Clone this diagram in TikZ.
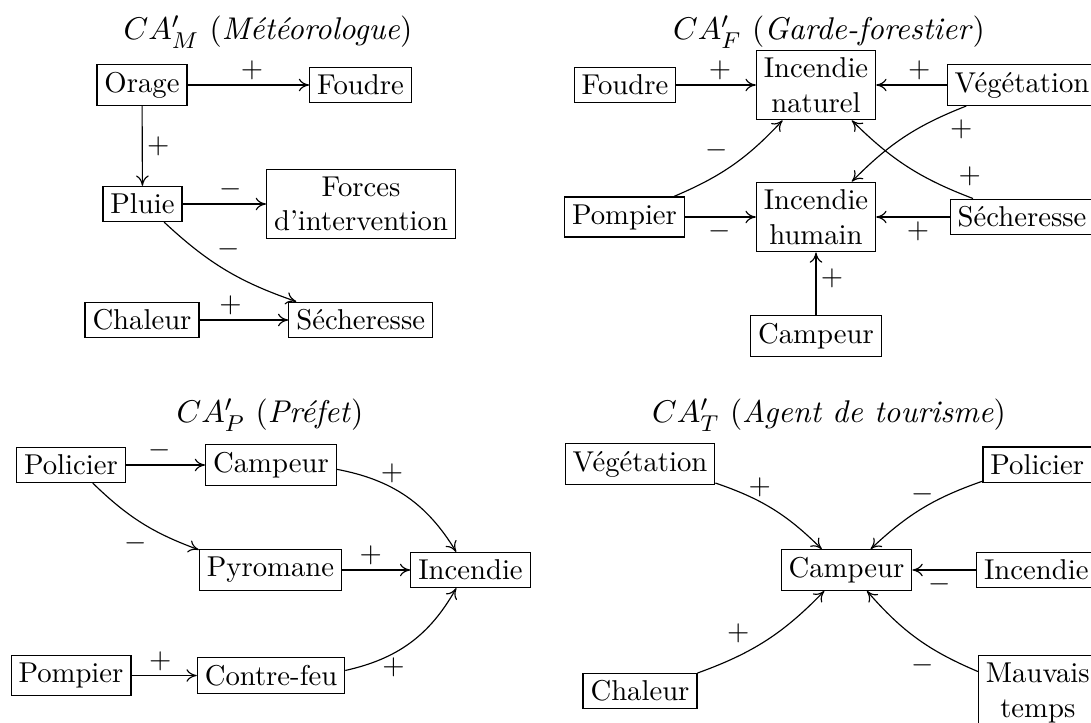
\documentclass[tikz,border=0pt]{standalone}
\usetikzlibrary{arrows.meta}
\begin{document}
\begin{tikzpicture}[x=0.34843pt,y=-0.34843pt,
  box/.style={draw, rectangle, inner sep=2.6pt, align=center, line width=0.4pt},
  lbl/.style={inner sep=1.5pt},
  conn/.style={-{To[length=3.6pt,width=4.4pt]}, line width=0.4pt},
  ttl/.style={inner sep=0pt, font=\fontsize{10.95pt}{13pt}\selectfont}]
\useasboundingbox (0,0) rectangle (1091,722);

% ---------- top left: CA'_M ----------
\node[ttl] (tM) at (268,32) {$CA'_M$ (\textit{Météorologue})};
\node[box] (Orage) at (142,85) {Orage};
\node[box] (FoudreM) at (360.5,85) {Foudre};
\node[box] (Pluie) at (142.5,204) {Pluie};
\node[box] (Forces) at (361,204) {Forces\\d’intervention};
\node[box] (ChaleurM) at (142,320) {Chaleur};
\node[box] (SechM) at (360.7,320) {Sécheresse};

\draw[conn] (Orage) -- node[lbl,above,pos=.53]{$+$} (FoudreM);
\draw[conn] (Orage) -- node[lbl,right,pos=.5]{$+$} (Pluie);
\draw[conn] (Pluie) -- node[lbl,above,pos=.58]{$-$} (Forces);
\draw[conn] (Pluie) to[bend right=12] node[lbl,pos=.53,above=3pt]{$-$} (SechM);
\draw[conn] (ChaleurM) -- node[lbl,above,pos=.35]{$+$} (SechM);

% ---------- top right: CA'_F ----------
\node[ttl] (tF) at (829,32) {$CA'_F$ (\textit{Garde-forestier})};
\node[box] (FoudreF) at (625,85) {Foudre};
\node[box] (IN) at (816,85) {Incendie\\naturel};
\node[box] (VegF) at (1022,85) {Végétation};
\node[box] (PompF) at (624.5,217) {Pompier};
\node[box] (IH) at (816,217) {Incendie\\humain};
\node[box] (SechF) at (1022,217) {Sécheresse};
\node[box] (CampF) at (816,336) {Campeur};

\draw[conn] (FoudreF) -- node[lbl,above,pos=.55]{$+$} (IN);
\draw[conn] (VegF) -- node[lbl,above,pos=.39]{$+$} (IN);
\draw[conn] (VegF) to[bend right=12] node[lbl,pos=.15,below right]{$+$} (IH);
\draw[conn] (SechF) to[bend left=12] node[lbl,pos=.13,above right]{$+$} (IN);
\draw[conn] (PompF) to[bend right=12] node[lbl,pos=.5,above left]{$-$} (IN);
\draw[conn] (PompF) -- node[lbl,below,pos=.49]{$-$} (IH);
\draw[conn] (SechF) -- node[lbl,below,pos=.43]{$+$} (IH);
\draw[conn] (CampF) -- node[lbl,right,pos=.58]{$+$} (IH);

% ---------- bottom left: CA'_P ----------
\node[ttl] (tP) at (270,415) {$CA'_P$ (\textit{Préfet})};
\node[box] (PolP) at (71,465) {Policier};
\node[box] (CampP) at (271,465) {Campeur};
\node[box] (Pyro) at (270.5,570) {Pyromane};
\node[box] (IncP) at (470.5,570) {Incendie};
\node[box] (PompP) at (71,675.5) {Pompier};
\node[box] (CF) at (271,675.5) {Contre-feu};

\draw[conn] (PolP) -- node[lbl,above,pos=.43]{$-$} (CampP);
\draw[conn] (PolP) to[bend right=12] node[lbl,pos=.6,below left]{$-$} (Pyro);
\draw[conn] (CampP) to[bend left=24] node[lbl,pos=.38,above]{$+$} (IncP);
\draw[conn] (Pyro) -- node[lbl,above,pos=.42]{$+$} (IncP);
\draw[conn] (PompP) -- node[lbl,above,pos=.44]{$+$} (CF);
\draw[conn] (CF) to[bend right=24] node[lbl,pos=.35,below]{$+$} (IncP);

% ---------- bottom right: CA'_T ----------
\node[ttl] (tT) at (829,415) {$CA'_T$ (\textit{Agent de tourisme})};
\node[box] (VegT) at (640,464) {Végétation};
\node[box] (PolT) at (1037.3,464.5) {Policier};
\node[box] (CampT) at (846.5,570) {Campeur};
\node[box] (IncT) at (1036.3,570) {Incendie};
\node[box] (ChT) at (640,691) {Chaleur};
\node[box] (MauvT) at (1037.8,693) {Mauvais\\temps};

\draw[conn] (VegT) to[bend left=13] node[lbl,pos=.37,above]{$+$} (CampT);
\draw[conn] (PolT) to[bend right=12] node[lbl,pos=.5,above]{$-$} (CampT);
\draw[conn] (IncT) -- node[lbl,below,pos=.57]{$-$} (CampT);
\draw[conn] (ChT) to[bend right=13] node[lbl,pos=.4,above left]{$+$} (CampT);
\draw[conn] (MauvT) to[bend left=13] node[lbl,pos=.45,below=3pt]{$-$} (CampT);
\end{tikzpicture}
\end{document}
